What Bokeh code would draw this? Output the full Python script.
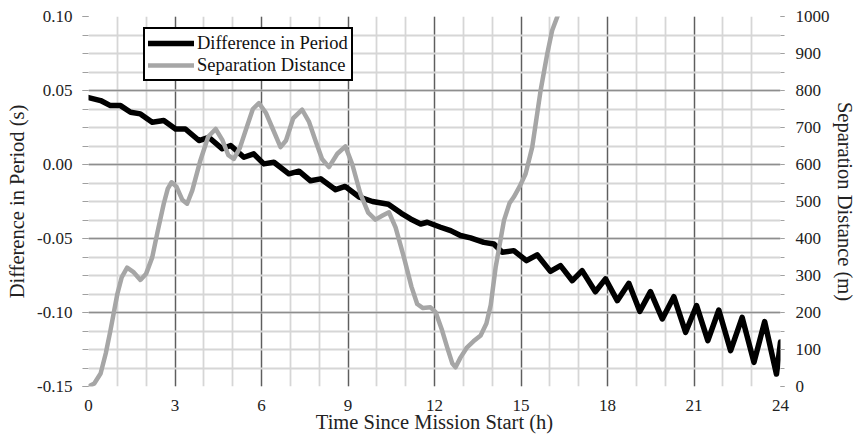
from bokeh.plotting import figure
from bokeh.models import Range1d, LinearAxis, FixedTicker, Legend, LegendItem
from bokeh.embed import file_html
from bokeh.resources import INLINE

# ---- data ----
t_period = [0.0, 0.42, 0.76, 1.11, 1.46, 1.80, 2.21, 2.61, 3.02, 3.36, 3.83, 4.17,
            4.64, 4.93, 5.39, 5.73, 6.08, 6.43, 6.95, 7.30, 7.70, 8.05, 8.57, 8.90,
            9.40, 9.85, 10.40, 10.85, 11.17, 11.52, 11.75, 12.21, 12.56, 12.90, 13.25,
            13.71, 14.06, 14.35, 14.75, 15.19, 15.56, 16.02, 16.37, 16.78, 17.12, 17.58,
            17.93, 18.34, 18.74, 19.12, 19.49, 19.90, 20.30, 20.71, 21.09, 21.48, 21.86,
            22.27, 22.67, 23.08, 23.45, 23.86, 24.0]
diff_period = [0.0452, 0.0432, 0.0398, 0.0398, 0.0353, 0.0342, 0.0286, 0.0297, 0.0240,
               0.0240, 0.0162, 0.0184, 0.0106, 0.0128, 0.0049, 0.0072, 0.0004, 0.0015,
               -0.0063, -0.0045, -0.0110, -0.0097, -0.0170, -0.0148, -0.0221, -0.0250,
               -0.0268, -0.0330, -0.0368, -0.0402, -0.0390, -0.0424, -0.0447, -0.0480,
               -0.0496, -0.0526, -0.0537, -0.0593, -0.0582, -0.0650, -0.0610, -0.0722,
               -0.0683, -0.0785, -0.0717, -0.0860, -0.0773, -0.0920, -0.0803, -0.0992,
               -0.0859, -0.1044, -0.0893, -0.1134, -0.0953, -0.1190, -0.0983, -0.1258,
               -0.1033, -0.1337, -0.1062, -0.1416, -0.1200]

t_sep = [0.0, 0.2, 0.42, 0.6, 0.76, 1.0, 1.15, 1.34, 1.55, 1.80, 2.0, 2.21, 2.4, 2.61,
         2.75, 2.88, 3.05, 3.25, 3.42, 3.6, 3.88, 4.15, 4.41, 4.65, 4.85, 5.04, 5.25,
         5.45, 5.7, 5.91, 6.15, 6.37, 6.66, 6.85, 7.1, 7.41, 7.65, 7.87, 8.1, 8.34,
         8.63, 8.91, 9.15, 9.43, 9.7, 9.95, 10.2, 10.42, 10.65, 10.94, 11.2, 11.4,
         11.6, 11.86, 12.04, 12.25, 12.44, 12.62, 12.73, 12.9, 13.13, 13.35, 13.6,
         13.8, 13.95, 14.12, 14.41, 14.6, 14.75, 14.95, 15.16, 15.39, 15.68, 15.91,
         16.08, 16.31, 16.45]
sep_dist = [0, 8, 35, 90, 151, 250, 295, 321, 310, 288, 305, 349, 420, 494,
            535, 552, 540, 505, 494, 530, 611, 675, 696, 665, 625, 615, 645,
            692, 750, 766, 740, 700, 647, 665, 725, 748, 715, 665, 615, 593,
            629, 649, 600, 521, 470, 451, 462, 471, 430, 349, 270, 223,
            212, 214, 201, 155, 106, 62, 52, 78, 106, 122, 138,
            170, 220, 322, 449, 495, 512, 540, 575, 647, 800, 899,
            962, 1010, 1040]

x_ticks = [0, 3, 6, 9, 12, 15, 18, 21, 24]
x_grid_major = [3, 6, 9, 12, 15, 18, 21]
x_grid_minor = list(range(0, 25))
y_ticks = [-0.15, -0.10, -0.05, 0.0, 0.05, 0.10]
y_tick_labels = ["-0.15", "-0.10", "-0.05", "0.00", "0.05", "0.10"]
y_minor = [-0.15 + 0.0125 * i for i in range(21)]
r_ticks = list(range(0, 1001, 100))
r_minor = list(range(0, 1001, 50))

FONT = "Liberation Serif"
TITLE_SIZE = "20.5px"

p = figure(width=860, height=437, output_backend="svg", toolbar_location=None,
           x_range=Range1d(0, 24), y_range=Range1d(-0.15, 0.10),
           min_border_left=88, min_border_right=80, min_border_top=16,
           min_border_bottom=51, outline_line_color=None)
p.extra_y_ranges = {"sep": Range1d(0, 1000)}

# grids
p.xgrid.ticker = FixedTicker(ticks=x_grid_major, minor_ticks=x_grid_minor)
p.xgrid.grid_line_color = "#5e5e5e"
p.xgrid.grid_line_width = 1.3
p.xgrid.minor_grid_line_color = "#d6d6d6"
p.xgrid.minor_grid_line_width = 1.8
p.ygrid.ticker = FixedTicker(ticks=y_ticks, minor_ticks=y_minor)
p.ygrid.grid_line_color = "#8e8e8e"
p.ygrid.grid_line_width = 1.5
p.ygrid.minor_grid_line_color = "#d6d6d6"
p.ygrid.minor_grid_line_width = 1.8

# x axis
xa = p.xaxis[0]
xa.ticker = FixedTicker(ticks=x_ticks, minor_ticks=[])
xa.axis_line_color = None
xa.major_tick_line_color = None
xa.major_tick_out = 0
xa.major_tick_in = 0
xa.major_label_standoff = 13
xa.major_label_text_font = FONT
xa.major_label_text_font_size = "17px"
xa.major_label_text_color = "#222222"
xa.axis_label = "Time Since Mission Start (h)"
xa.axis_label_text_font = FONT
xa.axis_label_text_font_size = TITLE_SIZE
xa.axis_label_text_font_style = "normal"
xa.axis_label_text_color = "#222222"
xa.axis_label_standoff = -3

# left axis
ya = p.yaxis[0]
ya.ticker = FixedTicker(ticks=y_ticks, minor_ticks=y_minor)
ya.major_label_overrides = dict(zip(y_ticks, y_tick_labels))
ya.axis_line_color = None
ya.major_tick_line_color = "#a0a0a0"
ya.minor_tick_line_color = "#a0a0a0"
ya.major_tick_out = 6
ya.major_tick_in = 0
ya.minor_tick_out = 6
ya.minor_tick_in = 0
ya.major_label_standoff = 10
ya.major_label_text_font = FONT
ya.major_label_text_font_size = "17px"
ya.major_label_text_color = "#222222"
ya.axis_label = "Difference in Period (s)"
ya.axis_label_text_font = FONT
ya.axis_label_text_font_size = TITLE_SIZE
ya.axis_label_text_font_style = "normal"
ya.axis_label_text_color = "#222222"
ya.axis_label_standoff = 6

# right axis
ra = LinearAxis(y_range_name="sep", ticker=FixedTicker(ticks=r_ticks, minor_ticks=r_minor))
ra.axis_line_color = None
ra.major_tick_line_color = "#a0a0a0"
ra.minor_tick_line_color = "#a0a0a0"
ra.major_tick_out = 4
ra.major_tick_in = 0
ra.minor_tick_out = 4
ra.minor_tick_in = 0
ra.major_label_standoff = 11
ra.major_label_text_font = FONT
ra.major_label_text_font_size = "17px"
ra.major_label_text_color = "#222222"
ra.axis_label = "Separation Distance (m)"
ra.axis_label_text_font = FONT
ra.axis_label_text_font_size = TITLE_SIZE
ra.axis_label_text_font_style = "normal"
ra.axis_label_text_color = "#222222"
ra.axis_label_standoff = 1
p.add_layout(ra, "right")

r1 = p.line(t_period, diff_period, line_color="black", line_width=5.5,
            line_join="round", line_cap="round")
r2 = p.line(t_sep, sep_dist, y_range_name="sep", line_color="#a6a6a6",
            line_width=4.5, line_join="round", line_cap="round")

legend = Legend(items=[LegendItem(label="Difference in Period", renderers=[r1]),
                       LegendItem(label="Separation Distance", renderers=[r2])],
                location=(55, 305))
legend.label_text_font = FONT
legend.label_text_font_size = "18.5px"
legend.label_text_color = "#111111"
legend.border_line_color = "#000000"
legend.border_line_alpha = 1.0
legend.border_line_width = 2
legend.padding = 3
legend.spacing = 0
legend.margin = 0
legend.glyph_width = 46
legend.glyph_height = 22
legend.label_height = 22
legend.label_standoff = 3
legend.background_fill_color = "white"
legend.background_fill_alpha = 1.0
p.add_layout(legend, "center")

open("out.html", "w").write(file_html(p, INLINE))
